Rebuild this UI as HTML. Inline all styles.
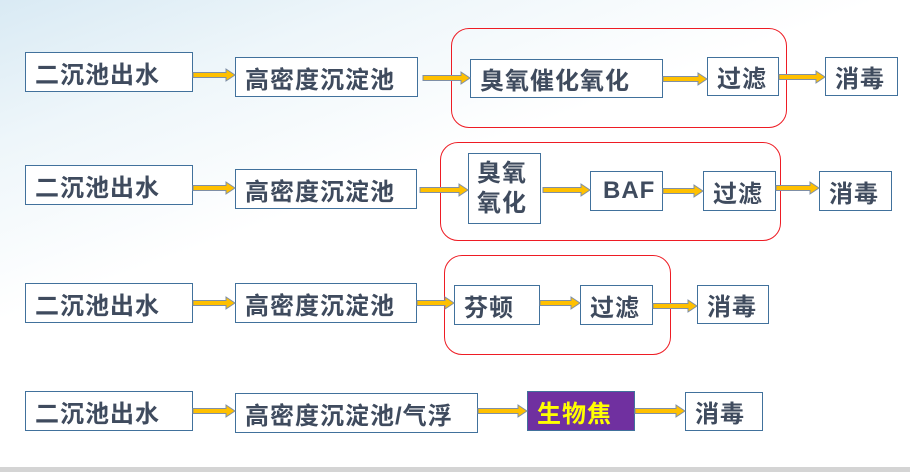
<!DOCTYPE html>
<html><head><meta charset="utf-8"><style>
body{margin:0;width:910px;height:472px;position:relative;overflow:hidden;
background:linear-gradient(160deg,#d9eaf4 0%,#eef6fa 18%,#ffffff 40%);font-family:"Liberation Sans","Noto Sans CJK SC",sans-serif;}
.b{position:absolute;box-sizing:border-box;border:1.5px solid #41719c;background:#fff;color:#3f4b5e;font-weight:bold;font-size:24px;display:flex;align-items:center;padding-left:9px;white-space:nowrap;letter-spacing:1px}
.r{position:absolute;box-sizing:border-box;border:1.5px solid #ee1c24;border-radius:18px}
.foot{position:absolute;left:0;top:467px;width:910px;height:5px;background:#d4d4d4}
</style></head><body>
<div class="r" style="left:451px;top:28px;width:336px;height:100px"></div>
<div class="r" style="left:440px;top:142px;width:341px;height:99px"></div>
<div class="r" style="left:444px;top:255px;width:227px;height:100px"></div>

<div class="b" style="left:25px;top:52px;width:168px;height:40px">二沉池出水</div>
<div class="b" style="left:235px;top:57px;width:183px;height:40px">高密度沉淀池</div>
<div class="b" style="left:470px;top:59px;width:193px;height:39px">臭氧催化氧化</div>
<div class="b" style="left:707px;top:57px;width:72px;height:39px">过滤</div>
<div class="b" style="left:825px;top:57px;width:73px;height:39px">消毒</div>

<div class="b" style="left:25px;top:165px;width:168px;height:40px">二沉池出水</div>
<div class="b" style="left:235px;top:169px;width:182px;height:40px">高密度沉淀池</div>
<div class="b" style="left:468px;top:153px;width:73px;height:71px;line-height:30px;white-space:normal;padding-left:8px;padding-right:4px">臭氧氧化</div>
<div class="b" style="left:590px;top:171px;width:73px;height:40px;padding-left:12px">BAF</div>
<div class="b" style="left:703px;top:171px;width:73px;height:40px">过滤</div>
<div class="b" style="left:819px;top:171px;width:73px;height:40px">消毒</div>

<div class="b" style="left:25px;top:283px;width:168px;height:40px">二沉池出水</div>
<div class="b" style="left:235px;top:283px;width:182px;height:40px">高密度沉淀池</div>
<div class="b" style="left:454px;top:285px;width:86px;height:40px">芬顿</div>
<div class="b" style="left:580px;top:285px;width:73px;height:40px">过滤</div>
<div class="b" style="left:697px;top:285px;width:72px;height:39px">消毒</div>

<div class="b" style="left:25px;top:391px;width:168px;height:40px">二沉池出水</div>
<div class="b" style="left:235px;top:393px;width:243px;height:40px">高密度沉淀池/气浮</div>
<div class="b" style="left:527px;top:391px;width:108px;height:40px;background:#7030a0;color:#ffff00">生物焦</div>
<div class="b" style="left:685px;top:392px;width:78px;height:39px">消毒</div>

<svg width="910" height="472" style="position:absolute;left:0;top:0">
<g fill="#ffc000" stroke="#7f8fa6" stroke-width="1">
<path d="M193,72.5H226V69L235,75L226,81V77.5H193Z"/>
<path d="M423,75.5H461V72L470,78L461,84V80.5H423Z"/>
<path d="M663,76.5H698V73L707,79L698,85V81.5H663Z"/>
<path d="M779,74.5H816V71L825,77L816,83V79.5H779Z"/>

<path d="M193,185.5H226V182L235,188L226,194V190.5H193Z"/>
<path d="M420,187.5H459V184L468,190L459,196V192.5H420Z"/>
<path d="M543,187.5H581V184L590,190L581,196V192.5H543Z"/>
<path d="M663,188.5H694V185L703,191L694,197V193.5H663Z"/>
<path d="M776,185.5H810V182L819,188L810,194V190.5H776Z"/>

<path d="M193,300.5H226V297L235,303L226,309V305.5H193Z"/>
<path d="M417,300.5H445V297L454,303L445,309V305.5H417Z"/>
<path d="M540,300.5H571V297L580,303L571,309V305.5H540Z"/>
<path d="M653,303.5H688V300L697,306L688,312V308.5H653Z"/>

<path d="M193,408.5H226V405L235,411L226,417V413.5H193Z"/>
<path d="M478,408.5H518V405L527,411L518,417V413.5H478Z"/>
<path d="M635,408.5H676V405L685,411L676,417V413.5H635Z"/>
</g></svg>
<div class="foot"></div>
</body></html>
